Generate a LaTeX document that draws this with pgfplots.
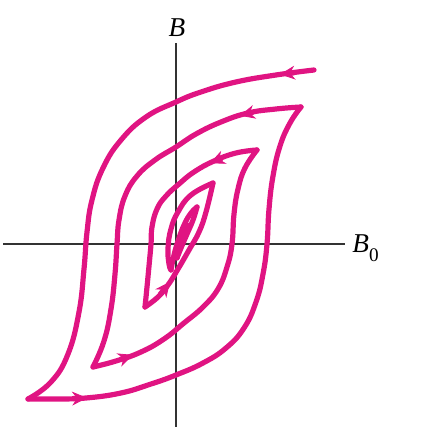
\documentclass[border=0pt]{standalone}
\usepackage{fontspec}
\setmainfont{Liberation Serif}
\usepackage{pgfplots}
\pgfplotsset{compat=1.18}
\usetikzlibrary{arrows.meta}
\definecolor{loop}{RGB}{224,20,130}
\begin{document}
\begin{tikzpicture}
\begin{axis}[
  x=0.5pt, y=0.5pt,
  xmin=-173, xmax=169, ymin=-183, ymax=201,
  axis lines=middle,
  axis line style={-, draw=black!80, line width=0.6pt},
  ticks=none,
  clip=false,
  cycle list={{draw=loop, mark=none}},
  lp/.style={draw=loop, line width=2.6pt, line cap=round, line join=round, smooth, tension=0.75, mark=none},
  ar/.style={draw=loop, line width=2.6pt, mark=none, sharp plot, -{Stealth[length=7.5pt, width=7pt, inset=2.5pt, line width=0.4pt]}},
]
% bounding box of the full picture
\path (axis cs:-176,244) rectangle (axis cs:244,-198);
% Seg A: outer loop, top-left (leftward)
\addplot[lp] coordinates {(138,174) (100,169) (60,162) (25,152) (0,142) (-30,127) (-55,104) (-73,76) (-84,44) (-89,12) (-92,-25) (-97,-68) (-108,-110) (-125,-138) (-148,-155)};
% Seg B: outer loop, bottom-right
\addplot[lp] coordinates {(-148,-155) (-120,-155) (-90,-154) (-55,-149) (-25,-140) (0,-131) (27,-119) (50,-104) (68,-84) (80,-58) (87,-30) (91,0) (93,35) (97,68) (104,98) (114,121) (125,137)};
% Seg C: loop 2 top-left
\addplot[lp] coordinates {(125,137) (100,135) (72,131) (45,122) (20,110) (0,97) (-21,84) (-39,68) (-51,48) (-57,24) (-59,0) (-61,-30) (-65,-65) (-72,-97) (-83,-123)};
% Seg D: loop 2 bottom-right
\addplot[lp] coordinates {(-83,-123) (-60,-117) (-35,-108) (-12,-95) (8,-79) (27,-63) (42,-45) (51,-23) (56,0) (58,30) (62,55) (69,76) (81,94)};
% Seg E: loop 3 top-left
\addplot[lp] coordinates {(81,94) (60,91) (38,83) (18,72) (3,60) (-10,48) (-19,35) (-24,17) (-25,0) (-27,-22) (-29,-43) (-31,-63)};
% Seg F: diagonal up to leaf corner
\addplot[lp] coordinates {(-31,-63) (-18,-53) (-8,-41) (2,-25) (13,-6) (23,12) (30,32) (37,61)};
% Seg G: leaf left edge
\addplot[lp] coordinates {(37,61) (15,49) (2,32) (-5,15) (-8,-4) (-7,-20) (-5,-26)};
% Seg H-K: inner spiral
\addplot[lp] coordinates {(-5,-26) (-2,-11) (3,6) (9,21) (15,31) (21,37)};
\addplot[lp] coordinates {(21,37) (17,24) (11,10) (5,-4) (1,-14)};
\addplot[lp] coordinates {(1,-14) (3,-2) (7,10) (11,19)};
\addplot[lp] coordinates {(11,19) (8,9) (4,0)};
% direction arrows (short pieces of the curves)
\addplot[ar] coordinates {(118,171.2) (104,169.6)};
\addplot[ar] coordinates {(-103,-154.5) (-89,-153.9)};
\addplot[ar] coordinates {(77,131.7) (64,128.3)};
\addplot[ar] coordinates {(-56,-115.6) (-43,-110.9)};
\addplot[ar] coordinates {(46,85.9) (34,80.8)};
\addplot[ar] coordinates {(-16,-50.6) (-6,-37.8)};
% labels
\node[anchor=base, inner sep=0pt] at (axis cs:1,207) {\fontsize{13.6}{16}\selectfont\itshape B};
\node[anchor=base west, inner sep=0pt] at (axis cs:176,-9) {\fontsize{13.6}{16}\selectfont{\itshape B}\raisebox{-4.5pt}{\fontsize{9.6}{11}\selectfont 0}};
\end{axis}
\end{tikzpicture}
\end{document}
